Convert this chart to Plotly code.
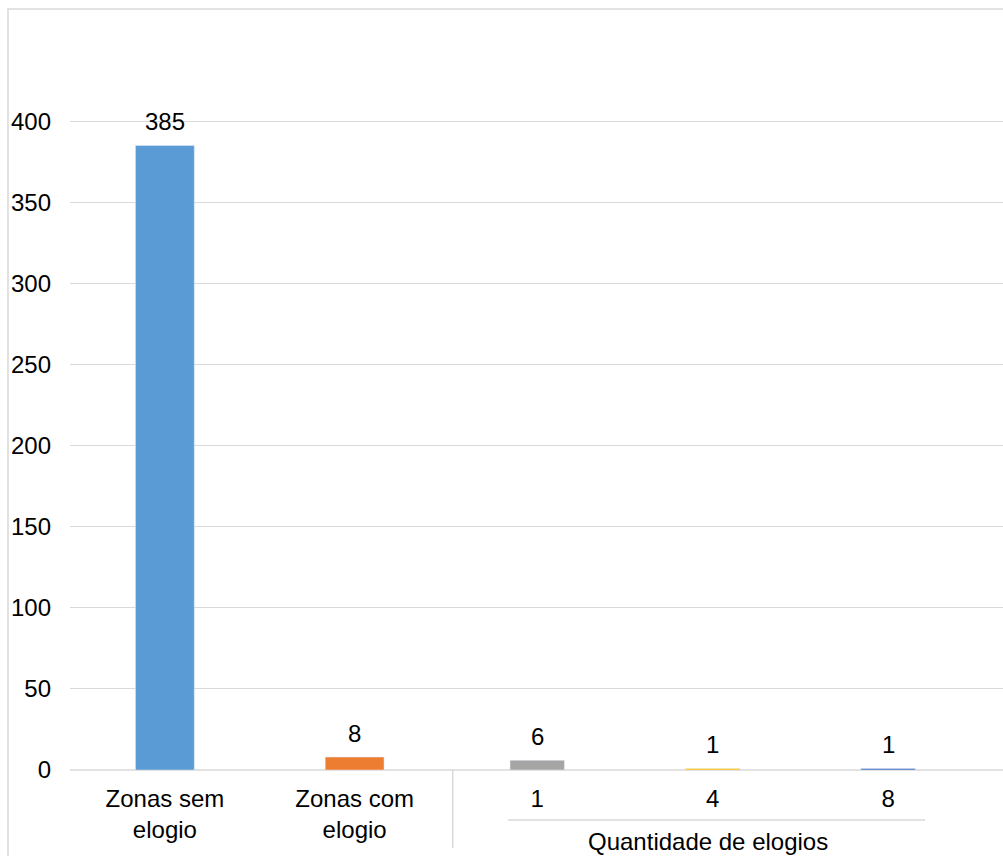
import plotly.graph_objects as go

# ---- data ----
group1_categories = ["Zonas sem<br>elogio", "Zonas com<br>elogio"]
group1_values = [385, 8]
group1_colors = ["#5B9BD5", "#ED7D31"]

group2_title = "Quantidade de elogios"
group2_categories = ["1", "4", "8"]
group2_values = [6, 1, 1]
group2_colors = ["#A5A5A5", "#FFC000", "#4472C4"]

y_tickvals = [0, 50, 100, 150, 200, 250, 300, 350, 400]

# ---- style ----
FONT = "Liberation Sans, Arial, sans-serif"
FS = 24
GRID = "#D9D9D9"
W, H = 1003, 856
ML, MR, MT, MB = 70, 0, 40, 86
PW, PH = W - ML - MR, H - MT - MB


def px_x(p):
    return (p - ML) / PW


def px_y(p):
    return (H - MB - p) / PH


split = px_x(449.5)

fig = go.Figure()
fig.add_trace(go.Bar(x=group1_categories, y=group1_values, marker_color=group1_colors,
                     width=0.31, xaxis="x", yaxis="y", showlegend=False, hoverinfo="skip"))
fig.add_trace(go.Bar(x=group2_categories, y=group2_values, marker_color=group2_colors,
                     width=0.31, xaxis="x2", yaxis="y2", showlegend=False, hoverinfo="skip"))

annotations = []
for cats, vals, xr, yr in [(group1_categories, group1_values, "x", "y"),
                           (group2_categories, group2_values, "x2", "y2")]:
    for i, v in enumerate(vals):
        annotations.append(dict(x=i, y=v, xref=xr, yref=yr, text=str(v), showarrow=False,
                                yanchor="bottom", yshift=8, font=dict(size=FS, color="#000000", family=FONT)))

annotations.append(dict(x=px_x(707.7), y=px_y(841), xref="paper", yref="paper", text=group2_title,
                        showarrow=False, xanchor="center", yanchor="middle",
                        font=dict(size=FS, color="#000000", family=FONT)))

shapes = [
    # outer chart border
    dict(type="rect", xref="paper", yref="paper", x0=px_x(8), x1=px_x(1010), y0=px_y(880), y1=px_y(9),
         line=dict(color=GRID, width=1.5), fillcolor="rgba(0,0,0,0)", layer="below"),
    # group separator
    dict(type="line", xref="paper", yref="paper", x0=px_x(452.7), x1=px_x(452.7), y0=0, y1=px_y(848),
         line=dict(color=GRID, width=1.5)),
    # group underline
    dict(type="line", xref="paper", yref="paper", x0=px_x(508), x1=px_x(925), y0=px_y(820), y1=px_y(820),
         line=dict(color=GRID, width=1.5)),
    # horizontal category axis line
    dict(type="line", xref="paper", yref="paper", x0=0, x1=1, y0=0, y1=0,
         line=dict(color=GRID, width=1.5), layer="below"),
]

axis_common = dict(type="category", showgrid=False, showline=False, zeroline=False, ticks="",
                   ticklabelstandoff=12,
                   tickfont=dict(size=FS, color="#000000", family=FONT))
fig.update_layout(
    width=W, height=H,
    margin=dict(l=ML, r=MR, t=MT, b=MB, pad=0),
    paper_bgcolor="white", plot_bgcolor="white",
    font=dict(family=FONT, size=FS, color="#000000"),
    xaxis=dict(domain=[0, split], range=[-0.5, 1.5], anchor="y", **axis_common),
    xaxis2=dict(domain=[split, 1], range=[-0.5, 2.655], anchor="y2", **axis_common),
    yaxis=dict(range=[0, 450], tickvals=y_tickvals, showgrid=True, gridcolor=GRID, gridwidth=1,
               zeroline=False, showline=False, ticks="",
               ticklabelstandoff=18, anchor="x",
               tickfont=dict(size=FS, color="#000000", family=FONT)),
    yaxis2=dict(matches="y", range=[0, 450], tickvals=y_tickvals, showgrid=True, gridcolor=GRID, gridwidth=1,
                zeroline=False, showline=False, ticks="",
                showticklabels=False, anchor="x2"),
    annotations=annotations,
    shapes=shapes,
    bargap=0.69,
)

fig.write_html("out.html")
